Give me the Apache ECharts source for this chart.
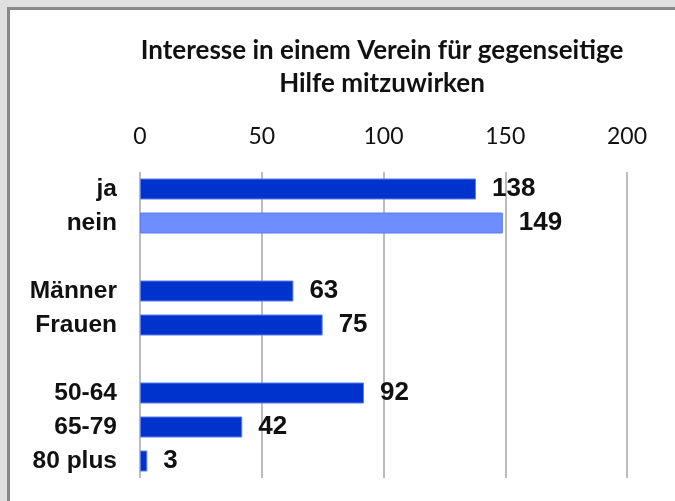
<!DOCTYPE html>
<html>
<head>
<meta charset="utf-8">
<script src="https://cdn.jsdelivr.net/npm/echarts@6/dist/echarts.min.js"></script>
<style>
  html, body { margin: 0; padding: 0; background: #e0e0e0; }
  .frame {
    position: absolute; left: 7px; top: 7px; width: 668px; height: 494px;
    background: #fff; border-left: 3px solid #8a8a8a; border-top: 3px solid #8a8a8a;
    box-sizing: border-box;
  }
  #chart { position: absolute; left: 0; top: 0; width: 675px; height: 501px; }
</style>
</head>
<body>
<div class="frame"></div>
<div id="chart"></div>
<script>
const categories = ['ja', 'nein', '', 'Männer', 'Frauen', ' ', '50-64', '65-79', '80 plus']
const values = [138, 149, null, 63, 75, null, 92, 42, 3]
const barColors = ['#0033cc', '#6e8eff', '#0033cc', '#0033cc', '#0033cc', '#0033cc', '#0033cc', '#0033cc', '#0033cc']
const tickValues = [0, 50, 100, 150, 200]
const titleText = 'Interesse in einem Verein für gegenseitige\nHilfe mitzuwirken'

const myChart = echarts.init(document.getElementById('chart'))

const barData = values.map((v, i) => ({
  value: v,
  itemStyle: { color: barColors[i] },
}))

const option = {
  animation: false,
  title: {
    text: titleText,
    left: 377,
    top: 29,
    textAlign: 'center',
    textStyle: {
      fontFamily: 'Lato',
      fontWeight: 'bold',
      fontSize: 26,
      lineHeight: 33,
      color: '#111',
    },
  },
  grid: {
    left: 140,
    right: 48,
    top: 172,
    bottom: 23,
  },
  xAxis: {
    type: 'value',
    position: 'top',
    min: tickValues[0],
    max: tickValues[tickValues.length - 1],
    interval: 50,
    axisLine: { show: false },
    axisTick: { show: false },
    axisLabel: {
      margin: 24,
      fontFamily: 'Lato',
      fontSize: 23,
      color: '#111',
    },
    splitLine: {
      show: true,
      lineStyle: { color: '#a6a6a6', width: 1.5 },
    },
  },
  yAxis: {
    type: 'category',
    data: categories,
    inverse: true,
    axisLine: { show: false },
    axisTick: { show: false },
    axisLabel: {
      margin: 23,
      fontFamily: 'Liberation Sans',
      fontWeight: 'bold',
      fontSize: 24.5,
      color: '#111',
    },
  },
  series: [
    {
      type: 'bar',
      data: barData,
      barWidth: 21,
      itemStyle: { borderColor: '#5a7cf0', borderWidth: 1 },
      label: {
        show: true,
        position: 'right',
        distance: 16,
        fontFamily: 'Liberation Sans',
        fontWeight: 'bold',
        fontSize: 26,
        color: '#111',
      },
    },
  ],
}

myChart.setOption(option)
</script>
</body>
</html>
